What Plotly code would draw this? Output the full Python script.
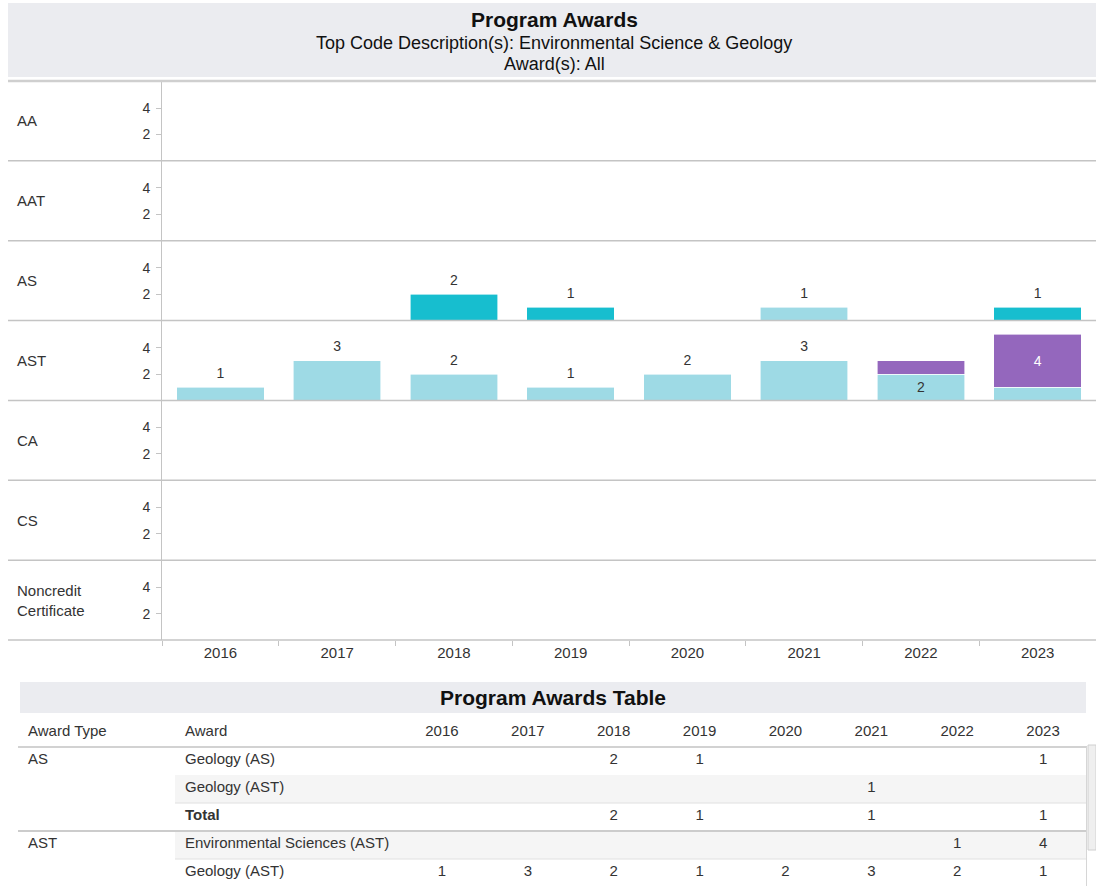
import plotly.graph_objects as go

W, H = 1096, 886
FONT = "Arial, Liberation Sans, Helvetica, sans-serif"
TXT = "#333333"

# ---------------- data ----------------
years = ["2016", "2017", "2018", "2019", "2020", "2021", "2022", "2023"]
award_types = ["AA", "AAT", "AS", "AST", "CA", "CS", "Noncredit Certificate"]
row_labels = ["AA", "AAT", "AS", "AST", "CA", "CS", "Noncredit<br>Certificate"]

as_geology_as = [None, None, 2, 1, None, None, None, 1]
as_geology_ast = [None, None, None, None, None, 1, None, None]
ast_env_sci_ast = [None, None, None, None, None, None, 1, 4]
ast_geology_ast = [1, 3, 2, 1, 2, 3, 2, 1]

award_colors = {
    "Geology (AS)": "#17becf",
    "Geology (AST)": "#9edae5",
    "Environmental Sciences (AST)": "#9467bd",
}
inside_text_colors = {
    "Geology (AS)": "#333333",
    "Geology (AST)": "#333333",
    "Environmental Sciences (AST)": "#ffffff",
}

# (award type, award, values) in table order
series = [
    ("AS", "Geology (AS)", as_geology_as),
    ("AS", "Geology (AST)", as_geology_ast),
    ("AST", "Environmental Sciences (AST)", ast_env_sci_ast),
    ("AST", "Geology (AST)", ast_geology_ast),
]
# bottom-to-top stacking order of awards within a bar
stack_order = ["Geology (AST)", "Geology (AS)", "Environmental Sciences (AST)"]

table_header = ["Award Type", "Award"] + years


def px_x(x):
    return x / W


def px_y(y):
    return 1 - y / H


# ---------------- chart geometry ----------------
X_LEFT, X_RIGHT = 162, 1096
ROW_TOP, ROW_BOTTOM = 81, 640
n_rows = len(award_types)
pitch = (ROW_BOTTOM - ROW_TOP) / n_rows

fig = go.Figure()


def yname(i):
    return "y" if i == 0 else f"y{i+1}"


for i, at in enumerate(award_types):
    # placeholder so that every facet row gets its own axes
    fig.add_trace(go.Scatter(x=years, y=[None] * len(years), mode="markers",
                             xaxis="x", yaxis=yname(i), showlegend=False, hoverinfo="skip"))
    row_series = [s for s in series if s[0] == at]
    row_series.sort(key=lambda s: stack_order.index(s[1]))
    totals, n_segs, largest = [], [], []
    for j in range(len(years)):
        segs = [(s[1], s[2][j]) for s in row_series if s[2][j]]
        totals.append(sum(v for _, v in segs))
        n_segs.append(len(segs))
        largest.append(max(segs, key=lambda t: t[1])[0] if segs else None)
    for at_, name, vals in row_series:
        texts = []
        for j, v in enumerate(vals):
            if v and n_segs[j] > 1 and largest[j] == name:
                texts.append(str(v))
            else:
                texts.append("")
        fig.add_trace(go.Bar(
            x=years, y=vals, name=name, width=0.75,
            marker=dict(color=award_colors[name], line=dict(color="white", width=0.6)),
            text=texts, textposition="inside", insidetextanchor="middle",
            textangle=0,
            textfont=dict(family=FONT, size=14, color=inside_text_colors[name]),
            xaxis="x", yaxis=yname(i), showlegend=False, hoverinfo="skip",
        ))
    lx, ly, lt = [], [], []
    for j in range(len(years)):
        if n_segs[j] == 1:
            lx.append(years[j])
            ly.append(totals[j])
            lt.append(str(totals[j]))
    if lx:
        fig.add_trace(go.Scatter(
            x=lx, y=ly, text=lt, mode="markers+text", textposition="top center",
            marker=dict(size=8, opacity=0),
            textfont=dict(family=FONT, size=14, color=TXT),
            xaxis="x", yaxis=yname(i), showlegend=False, hoverinfo="skip",
            cliponaxis=False,
        ))

layout = dict(
    width=W, height=H,
    margin=dict(l=0, r=0, t=0, b=0),
    paper_bgcolor="white", plot_bgcolor="rgba(0,0,0,0)",
    barmode="stack", font=dict(family=FONT, color=TXT),
    showlegend=False,
)
layout["xaxis"] = dict(
    domain=[px_x(X_LEFT), px_x(X_RIGHT)], anchor=yname(n_rows - 1),
    type="category", categoryorder="array", categoryarray=years,
    range=[-0.5, len(years) - 0.5],
    ticks="outside", tickson="boundaries", ticklen=5, tickcolor="#c4c4c4",
    ticklabelstandoff=2,
    showline=False, showgrid=False, zeroline=False,
    tickfont=dict(size=15, color=TXT), fixedrange=True,
)
for i in range(n_rows):
    top = ROW_TOP + i * pitch
    bot = top + pitch
    key = "yaxis" if i == 0 else f"yaxis{i+1}"
    layout[key] = dict(
        domain=[px_y(bot), px_y(top)], anchor="x",
        range=[0, 6.05], tickvals=[2, 4], ticktext=["2", "4"],
        ticks="outside", ticklen=5, tickcolor="#c4c4c4", ticklabelstandoff=3,
        showline=True, linecolor="#c4c4c4", linewidth=1,
        showgrid=False, zeroline=False,
        tickfont=dict(size=14, color=TXT), fixedrange=True,
    )

# ---------------- table geometry (own axes) ----------------
TBL_TITLE_TOP, TBL_TITLE_BOT = 682, 713
HDR_TOP = 717
ROW_H = 28
T_LEFT, T_RIGHT = 18, 1087          # axis domain in px
col_widths = [159, 222] + [85.875] * len(years)
col_pads = [10, 8]
col_left = [0]
for w_ in col_widths[:-1]:
    col_left.append(col_left[-1] + w_)
TX = "x2"
TY = "y" + str(n_rows + 1)
layout["xaxis2"] = dict(domain=[px_x(T_LEFT), px_x(T_RIGHT)], anchor=TY,
                        range=[0, T_RIGHT - T_LEFT], visible=False, fixedrange=True)
n_vis = (H - HDR_TOP) / ROW_H
y_shift = 1.0 / ROW_H
layout["yaxis" + str(n_rows + 1)] = dict(domain=[0, px_y(HDR_TOP)], anchor=TX,
                                         range=[-1.5 + n_vis - y_shift, -1.5 - y_shift],
                                         visible=False, fixedrange=True)
fig.update_layout(**layout)

# build table rows from series
col_type, col_award = [], []
year_cols = [[] for _ in years]
group_end_rows = []
for at in award_types:
    rs = [s for s in series if s[0] == at]
    if not rs:
        continue
    for k, (at_, name, vals) in enumerate(rs):
        col_type.append(at if k == 0 else "")
        col_award.append(name)
        for j, v in enumerate(vals):
            year_cols[j].append("" if v is None else str(v))
    if len(rs) > 1 and at == "AS":
        col_type.append("")
        col_award.append("<b>Total</b>")
        for j in range(len(years)):
            tot = sum(s[2][j] or 0 for s in rs)
            year_cols[j].append(str(tot) if tot else "")
    group_end_rows.append(len(col_award))
n_tbl_rows = len(col_award)
table_cols = [col_type, col_award] + year_cols

shapes = []
annotations = []
ROW_END = T_RIGHT - T_LEFT

# zebra shading (award + year columns)
for r in range(n_tbl_rows):
    if r % 2 == 1:
        shapes.append(dict(type="rect", xref=TX, yref=TY, x0=col_left[1] - 2, x1=ROW_END,
                           y0=r - 0.5 + y_shift, y1=r + 0.5 + y_shift, fillcolor="#f5f5f5",
                           line=dict(width=0), layer="below"))
# header underline
shapes.append(dict(type="line", xref=TX, yref=TY, x0=0, x1=ROW_END,
                   y0=-0.5 + y_shift, y1=-0.5 + y_shift, line=dict(color="#d2d2d2", width=2)))
for r in range(n_tbl_rows):
    yl = r + 0.5 + y_shift
    if (r + 1) in group_end_rows[:-1]:
        shapes.append(dict(type="line", xref=TX, yref=TY, x0=0, x1=ROW_END,
                           y0=yl, y1=yl, line=dict(color="#cccccc", width=2)))
    elif r % 2 == 1 or r == n_tbl_rows - 1:
        shapes.append(dict(type="line", xref=TX, yref=TY, x0=col_left[1] - 2, x1=ROW_END,
                           y0=yl, y1=yl, line=dict(color="#e0e0e0", width=1)))
# right border of the scrolling body
shapes.append(dict(type="line", xref=TX, yref=TY, x0=ROW_END - 0.5, x1=ROW_END - 0.5,
                   y0=-0.5 + y_shift, y1=n_vis, line=dict(color="#d6d6d6", width=1)))

# table text (header + cells)
for c, vals in enumerate(table_cols):
    left = c < 2
    xpos = col_left[c] + (col_pads[c] if left else col_widths[c] / 2)
    ys = [-1] + list(range(n_tbl_rows))
    txts = [table_header[c]] + vals
    fig.add_trace(go.Scatter(
        x=[xpos] * len(ys), y=ys, text=txts, mode="text",
        textposition="middle right" if left else "middle center",
        textfont=dict(family=FONT, size=15, color=TXT),
        xaxis=TX, yaxis=TY, showlegend=False, hoverinfo="skip", cliponaxis=False,
    ))

# title band
shapes.append(dict(type="rect", xref="paper", yref="paper",
                   x0=px_x(8), x1=px_x(1096), y0=px_y(77), y1=px_y(3),
                   fillcolor="#ebecf0", line=dict(width=0), layer="below"))
annotations.append(dict(text="<b>Program Awards</b>", xref="paper", yref="paper",
                        x=px_x(554), y=px_y(19), showarrow=False,
                        font=dict(size=21, color="#111"), xanchor="center", yanchor="middle"))
annotations.append(dict(text="Top Code Description(s): Environmental Science & Geology",
                        xref="paper", yref="paper", x=px_x(554), y=px_y(43), showarrow=False,
                        font=dict(size=18, color="#111"), xanchor="center", yanchor="middle"))
annotations.append(dict(text="Award(s): All", xref="paper", yref="paper",
                        x=px_x(554), y=px_y(64), showarrow=False,
                        font=dict(size=18, color="#111"), xanchor="center", yanchor="middle"))
# facet row separator lines
shapes.append(dict(type="line", xref="paper", yref="paper", x0=px_x(8), x1=1,
                   y0=px_y(ROW_TOP), y1=px_y(ROW_TOP), line=dict(color="#cfcfcf", width=2.5)))
for i in range(1, n_rows + 1):
    yy = ROW_TOP + i * pitch
    shapes.append(dict(type="line", xref="paper", yref="paper", x0=px_x(8), x1=1,
                       y0=px_y(yy), y1=px_y(yy), line=dict(color="#c4c4c4", width=1.5)))
# facet row labels
for i, lab in enumerate(row_labels):
    yc = ROW_TOP + (i + 0.5) * pitch
    annotations.append(dict(text=lab, xref="paper", yref="paper", x=px_x(15), y=px_y(yc),
                            xanchor="left", yanchor="middle", align="left", showarrow=False,
                            font=dict(size=15, color=TXT)))
# table title band
shapes.append(dict(type="rect", xref="paper", yref="paper",
                   x0=px_x(20), x1=px_x(1086), y0=px_y(TBL_TITLE_BOT), y1=px_y(TBL_TITLE_TOP),
                   fillcolor="#ebecf0", line=dict(width=0), layer="below"))
annotations.append(dict(text="<b>Program Awards Table</b>", xref="paper", yref="paper",
                        x=px_x(553), y=px_y((TBL_TITLE_TOP + TBL_TITLE_BOT) / 2), showarrow=False,
                        font=dict(size=21, color="#111"), xanchor="center", yanchor="middle"))
# scrollbar
shapes.append(dict(type="rect", xref="paper", yref="paper", x0=px_x(1088), x1=px_x(1096),
                   y0=px_y(850), y1=px_y(HDR_TOP + ROW_H), fillcolor="#efefef",
                   line=dict(color="#d0d0d0", width=1)))

fig.update_layout(shapes=shapes, annotations=annotations)

fig.write_html("out.html", config={"displayModeBar": False},
               post_script="document.body.style.margin='0';document.body.style.overflow='hidden';")
